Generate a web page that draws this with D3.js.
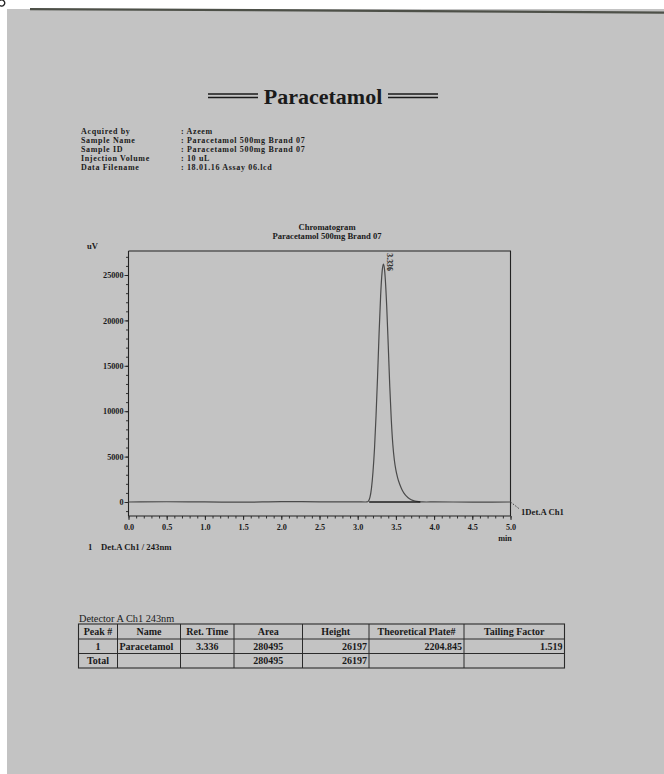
<!DOCTYPE html>
<html>
<head>
<meta charset="utf-8">
<script src="https://cdn.jsdelivr.net/npm/d3@7"></script>
<style>
  html, body { margin: 0; padding: 0; background: #ffffff; }
  svg { display: block; }
  text { font-family: "Liberation Serif", "Times New Roman", serif; fill: #1a1a1a; }
</style>
</head>
<body>
<svg id="page" width="664" height="774"></svg>
<script>
// ---- Report data ----
const reportTitle = "Paracetamol";
const infoLabels = ["Acquired by", "Sample Name", "Sample ID", "Injection Volume", "Data Filename"];
const infoValues = [": Azeem", ": Paracetamol 500mg Brand 07", ": Paracetamol 500mg Brand 07", ": 10 uL", ": 18.01.16 Assay 06.lcd"];

const chartTitle = ["Chromatogram", "Paracetamol 500mg Brand 07"];

// Detector trace (time in min, signal in uV)
const traceTime = [0.0, 0.5, 1.0, 1.5, 2.0, 2.5, 3.0, 3.10, 3.12, 3.14, 3.16, 3.18, 3.20, 3.22, 3.24, 3.26, 3.28, 3.30, 3.32, 3.336,
                   3.35, 3.36, 3.38, 3.40, 3.42, 3.44, 3.46, 3.48, 3.50, 3.52, 3.55, 3.58, 3.62, 3.66, 3.70, 3.75, 3.80, 3.85, 3.90, 4.0, 4.5, 5.0];
const traceSignal = [0, 30, 10, -20, 40, 20, 10, 0, 10, 100, 500, 1500, 3300, 5900, 9500, 13800, 18600, 22700, 25400, 26197,
                     25700, 24700, 21500, 17200, 12700, 9000, 6300, 4600, 3500, 2750, 1950, 1350, 800, 460, 250, 110, 35, 5, 0, 10, -10, 0];

// Integrated peak
const peakRetTime = 3.336;
const peakHeight = 26197;
const peakStart = 3.15;
const peakEnd = 3.82;

// Axis ticks
const yMajorTicks = [0, 5000, 10000, 15000, 20000, 25000];
const yMinorTicks = d3.range(-1000, 27001, 1000);
const xMajorTicks = [0.0, 0.5, 1.0, 1.5, 2.0, 2.5, 3.0, 3.5, 4.0, 4.5, 5.0];
const xMinorTicks = d3.range(0, 5.001, 0.1);

// Peak table
const tableTitle = "Detector A Ch1 243nm";
const tableHeader = ["Peak #", "Name", "Ret. Time", "Area", "Height", "Theoretical Plate#", "Tailing Factor"];
const tableRow1 = ["1", "Paracetamol", "3.336", "280495", "26197", "2204.845", "1.519"];
const tableTotal = ["Total", "", "", "280495", "26197", "", ""];

// ---- Drawing ----
const svg = d3.select("#page");

// paper
svg.append("rect").attr("x", 7).attr("y", 9).attr("width", 657).attr("height", 765).attr("fill", "#c3c3c3");
svg.append("path").attr("d", "M30,9.2 L300,10.4 L664,12.6").attr("stroke", "#4d5048").attr("stroke-width", 2.2).attr("fill", "none");
svg.append("path").attr("d", "M0,0.5 A3,3 0 1 1 0,5.5").attr("stroke", "#222").attr("stroke-width", 1.3).attr("fill", "none");

// title with double rules
svg.append("text").attr("x", 323).attr("y", 104).attr("text-anchor", "middle")
  .attr("font-size", 22).attr("font-weight", "bold").text(reportTitle);
[[208, 258], [388, 438]].forEach(([a, b]) => {
  [94, 97.5].forEach(yy => svg.append("line").attr("x1", a).attr("x2", b).attr("y1", yy).attr("y2", yy)
    .attr("stroke", "#1a1a1a").attr("stroke-width", 1.4));
});

// sample info
const info = svg.append("g").attr("font-size", 8).attr("font-weight", "bold").attr("letter-spacing", 0.65);
infoLabels.forEach((t, i) => {
  info.append("text").attr("x", 81).attr("y", 134 + i * 9.1).text(t);
  info.append("text").attr("x", 181).attr("y", 134 + i * 9.1).text(infoValues[i]);
});

// chromatogram
const x = d3.scaleLinear().domain([0, 5]).range([128.5, 510.5]);
const y = d3.scaleLinear().domain([0, 25000]).range([502, 275]);
const yBottom = y.invert(516), yTop = y.invert(251);

const chart = svg.append("g");
chartTitle.forEach((t, i) => chart.append("text").attr("x", 327).attr("y", 230 + i * 9)
  .attr("text-anchor", "middle").attr("font-size", 8.6).attr("font-weight", 600).text(t));
chart.append("text").attr("x", 87).attr("y", 249).attr("font-size", 8.5).attr("font-weight", 600).text("uV");

// frame top / right
chart.append("path")
  .attr("d", `M${x(0)},${y(yTop)} H${x(5)} V${y(yBottom)}`)
  .attr("stroke", "#222").attr("stroke-width", 1.1).attr("fill", "none");

// y axis
const yAxisMinor = d3.axisLeft(y).tickValues(yMinorTicks.filter(v => v >= yBottom && v <= yTop)).tickSize(2.5).tickFormat("");
const yAxisMajor = d3.axisLeft(y).tickValues(yMajorTicks).tickSize(4).tickPadding(1).tickFormat(d3.format("d"));
const gyMinor = chart.append("g").attr("transform", `translate(${x(0)},0)`).call(yAxisMinor);
const gy = chart.append("g").attr("transform", `translate(${x(0)},0)`).call(yAxisMajor);
gyMinor.select(".domain").remove();
gy.select(".domain").attr("d", `M0,${y(yTop)}V${y(yBottom)}`);

// x axis
const xAxisMinor = d3.axisBottom(x).tickValues(xMinorTicks).tickSize(2.5).tickFormat("");
const xAxisMajor = d3.axisBottom(x).tickValues(xMajorTicks).tickSize(4).tickPadding(4).tickFormat(d3.format(".1f"));
const gxMinor = chart.append("g").attr("transform", `translate(0,${y(yBottom)})`).call(xAxisMinor);
const gx = chart.append("g").attr("transform", `translate(0,${y(yBottom)})`).call(xAxisMajor);
gxMinor.select(".domain").remove();
gx.select(".domain").attr("d", `M${x(0)},0H${x(5)}`);

[gy, gx, gyMinor, gxMinor].forEach(g => {
  g.selectAll("line").attr("stroke", "#222").attr("stroke-width", 0.9);
  g.select(".domain").attr("stroke", "#222").attr("stroke-width", 1.1);
  g.selectAll("text").attr("font-family", "Liberation Serif, serif").attr("font-size", 8.2)
    .attr("font-weight", "bold").attr("fill", "#1a1a1a");
});
chart.append("text").attr("x", 505).attr("y", 541).attr("text-anchor", "middle")
  .attr("font-size", 8.2).attr("font-weight", "bold").text("min");

// trace
const line = d3.line().x((d, i) => x(traceTime[i])).y(d => y(d)).curve(d3.curveMonotoneX);
chart.append("path").datum(traceSignal).attr("d", line)
  .attr("fill", "none").attr("stroke", "#4a4a4a").attr("stroke-width", 1.2);

// integration baseline
chart.append("line").attr("x1", x(peakStart)).attr("x2", x(peakEnd)).attr("y1", y(0)).attr("y2", y(0))
  .attr("stroke", "#1e1e1e").attr("stroke-width", 1.4);

// peak label
chart.append("text")
  .attr("transform", `translate(${x(peakRetTime) + 6},${y(peakHeight) - 2}) rotate(90)`)
  .attr("font-size", 7.8).attr("font-weight", "bold").attr("text-anchor", "middle").attr("dy", "0.35em")
  .text(peakRetTime.toFixed(3));

// channel tag at trace end
chart.append("line").attr("x1", x(5)).attr("y1", y(0)).attr("x2", x(5) + 9).attr("y2", y(0) + 7)
  .attr("stroke", "#333").attr("stroke-width", 0.9).attr("stroke-dasharray", "1.5,1.5");
chart.append("text").attr("x", 521).attr("y", 515).attr("font-size", 8.7).attr("font-weight", "bold").text("1Det.A Ch1");

// legend under the chart
chart.append("text").attr("x", 88).attr("y", 550).attr("font-size", 8.7).attr("font-weight", "bold").text("1");
chart.append("text").attr("x", 101).attr("y", 550).attr("font-size", 8.7).attr("font-weight", "bold").text("Det.A Ch1 / 243nm");

// peak table
const colEdges = [78.5, 117.5, 180.5, 234, 302.5, 369, 464, 564.5];
const rowEdges = [624, 639, 653.5, 668];
const align = ["middle", "start", "middle", "middle", "end", "end", "end"];
const tbl = svg.append("g");
tbl.append("text").attr("x", 79).attr("y", 622).attr("font-size", 10.3).attr("font-weight", 500).text(tableTitle);
tbl.append("rect").attr("x", colEdges[0]).attr("y", rowEdges[0])
  .attr("width", colEdges[7] - colEdges[0]).attr("height", rowEdges[3] - rowEdges[0])
  .attr("fill", "none").attr("stroke", "#2a2a2a").attr("stroke-width", 1.1);
rowEdges.slice(1, 3).forEach(r => tbl.append("line").attr("x1", colEdges[0]).attr("x2", colEdges[7])
  .attr("y1", r).attr("y2", r).attr("stroke", "#2a2a2a").attr("stroke-width", 1));
colEdges.slice(1, 7).forEach(c => tbl.append("line").attr("x1", c).attr("x2", c)
  .attr("y1", rowEdges[0]).attr("y2", rowEdges[3]).attr("stroke", "#2a2a2a").attr("stroke-width", 1));

function cellX(i, anchor) {
  if (anchor === "middle") return (colEdges[i] + colEdges[i + 1]) / 2;
  if (anchor === "start") return colEdges[i] + 2;
  return colEdges[i + 1] - 2;
}
tableHeader.forEach((t, i) => tbl.append("text").attr("x", (colEdges[i] + colEdges[i + 1]) / 2).attr("y", rowEdges[0] + 10.8)
  .attr("text-anchor", "middle").attr("font-size", 10).attr("font-weight", 600).text(t));
[tableRow1, tableTotal].forEach((row, r) => row.forEach((t, i) => {
  const a = (r === 1 && i === 0) ? "middle" : align[i];
  tbl.append("text").attr("x", cellX(i, a)).attr("y", rowEdges[r + 1] + 10.8)
    .attr("text-anchor", a).attr("font-size", 10).attr("font-weight", 600).text(t);
}));
</script>
</body>
</html>
